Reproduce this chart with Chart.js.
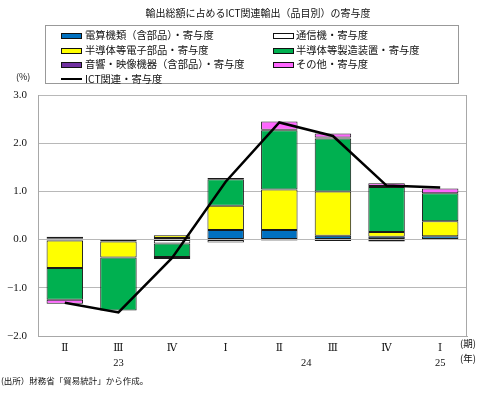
<!DOCTYPE html>
<html><head><meta charset="utf-8">
<script src="https://cdn.jsdelivr.net/npm/chart.js@4/dist/chart.umd.min.js"></script>
<style>
html,body{margin:0;padding:0;background:#fff;}
#wrap{position:relative;width:490px;height:393px;overflow:hidden;font-family:"Noto Sans CJK JP",sans-serif;color:#111;}
#c{position:absolute;left:0;top:0;}
.t{position:absolute;white-space:nowrap;line-height:1;}
.sw{position:absolute;width:19px;height:4px;border:1px solid #111;}
.ln{position:absolute;width:21px;height:2px;background:#000;}
#legend{position:absolute;left:45px;top:25px;width:412px;height:57px;border:1px solid #999;}
</style></head>
<body><div id="wrap">
<canvas id="c" width="490" height="393"></canvas>
<div class="t" id="title" style="left:0;width:516px;text-align:center;top:8px;font-size:10px;">輸出総額に占めるICT関連輸出（品目別）の寄与度</div>
<div id="legend"></div>
<div class="t" style="left:16px;top:72px;font-size:9px;">(%)</div>
<div class="t" style="left:460px;top:339px;font-size:9.5px;">(期)</div>
<div class="t" style="left:460px;top:354px;font-size:9.5px;">(年)</div>
<div class="t" style="left:1px;top:376px;font-size:8.5px;">(出所）財務省「貿易統計」から作成。</div>
</div>
<script>
const categories = ['Ⅱ','Ⅲ','Ⅳ','Ⅰ','Ⅱ','Ⅲ','Ⅳ','Ⅰ'];
const years = ['23','23','23','24','24','24','24','25'];
const yTicks = [3, 2, 1, 0, -1, -2];

const seriesNames = ['電算機類（含部品）・寄与度','通信機・寄与度','半導体等電子部品・寄与度','半導体等製造装置・寄与度','音響・映像機器（含部品）・寄与度','その他・寄与度'];
const lineName = 'ICT関連・寄与度';

const computers = [0.03, -0.03, 0.035, 0.20, 0.20, 0.08, 0.06, 0.07];
const telecom   = [-0.02, -0.01, -0.08, -0.06, -0.02, -0.03, -0.04, -0.01];
const semis     = [-0.57, -0.33, 0.055, 0.50, 0.84, 0.92, 0.10, 0.31];
const equipment = [-0.66, -1.10, -0.28, 0.55, 1.23, 1.10, 0.93, 0.58];
const audioVis  = [0.03, null, null, 0.03, 0.01, 0.02, 0.02, null];
const others    = [-0.08, null, -0.04, null, 0.17, 0.08, 0.06, 0.10];
const ictTotal  = [-1.31, -1.51, -0.38, 1.20, 2.43, 2.15, 1.12, 1.08];

const colors = ['#0070C0','#FFFFFF','#FFFF00','#00B050','#7030A0','#FF66FF'];
const seriesData = [computers, telecom, semis, equipment, audioVis, others];

// legend (HTML text)
const leg = document.getElementById('legend');
const rowsY = [5, 20, 34, 49];
const colX = [[15, 39], [227, 250]];
seriesNames.forEach((n, i) => {
  const r = Math.floor(i / 2), c = i % 2;
  const sw = document.createElement('div');
  sw.className = 'sw'; sw.style.left = colX[c][0] + 'px'; sw.style.top = (rowsY[r] + 2) + 'px';
  sw.style.background = colors[i]; leg.appendChild(sw);
  const t = document.createElement('div');
  t.className = 't'; t.style.left = colX[c][1] + 'px'; t.style.top = (rowsY[r] - 1) + 'px';
  t.style.fontSize = '10.3px'; t.textContent = n; leg.appendChild(t);
});
{
  const l = document.createElement('div'); l.className = 'ln';
  l.style.left = colX[0][0] + 'px'; l.style.top = (rowsY[3] + 3) + 'px'; leg.appendChild(l);
  const t = document.createElement('div'); t.className = 't';
  t.style.left = colX[0][1] + 'px'; t.style.top = (rowsY[3] - 1) + 'px'; t.style.fontSize = '10.3px';
  t.textContent = lineName; leg.appendChild(t);
}

const serif = '"DejaVu Serif","Liberation Serif","Noto Sans CJK JP",serif';

const framePlugin = {
  id: 'frame',
  beforeDatasetsDraw(chart) {
    const {ctx, chartArea: a} = chart;
    ctx.save();
    ctx.strokeStyle = '#a8a8a8'; ctx.lineWidth = 1;
    ctx.beginPath();
    ctx.moveTo(a.left + 0.5, a.top); ctx.lineTo(a.left + 0.5, a.bottom);
    ctx.moveTo(a.right - 0.5, a.top); ctx.lineTo(a.right - 0.5, a.bottom);
    ctx.stroke();
    ctx.restore();
  },
  afterDraw(chart) {
    const {ctx} = chart;
    const xs = chart.scales.x;
    const groups = {};
    years.forEach((y, i) => { (groups[y] = groups[y] || []).push(xs.getPixelForValue(i)); });
    ctx.save();
    ctx.fillStyle = '#111'; ctx.font = '10.5px "Liberation Serif",serif';
    ctx.textAlign = 'center'; ctx.textBaseline = 'middle';
    Object.keys(groups).forEach(y => {
      const p = groups[y]; const x = p.reduce((s, v) => s + v, 0) / p.length;
      ctx.fillText(y, x, 363);
    });
    ctx.restore();
  }
};

const datasets = seriesData.map((d, i) => ({
  type: 'bar', label: seriesNames[i], data: d, backgroundColor: colors[i],
  borderColor: '#1a1a1a', borderWidth: 1, borderSkipped: false, stack: 's', order: 1,
  categoryPercentage: 1, barPercentage: 0.68
}));
datasets.push({
  type: 'line', label: lineName, data: ictTotal, borderColor: '#000', borderWidth: 2.5,
  pointRadius: 0, tension: 0, fill: false, order: 0
});

new Chart(document.getElementById('c'), {
  data: { labels: categories, datasets },
  options: {
    responsive: false, animation: false, devicePixelRatio: 1,
    layout: { padding: { top: 95, right: 23, left: 0, bottom: 0 } },
    plugins: { legend: { display: false }, tooltip: { enabled: false } },
    scales: {
      x: {
        stacked: true,
        grid: { display: false, drawTicks: false },
        border: { display: true, color: '#a8a8a8' },
        ticks: { color: '#111', font: { family: serif, size: 10.5 }, padding: 6, maxRotation: 0, autoSkip: false },
        afterFit(s) { s.height = 57; }
      },
      y: {
        stacked: true, min: -2, max: 3,
        afterBuildTicks(s) { s.ticks = yTicks.map(v => ({ value: v })); },
        grid: { color: '#b8b8b8', drawTicks: false, lineWidth: 1 },
        border: { display: true, color: '#a8a8a8' },
        ticks: {
          color: '#111', font: { family: '"Liberation Serif",serif', size: 11 }, padding: 11,
          callback: v => v.toFixed(1).replace('-', '−')
        },
        afterFit(s) { s.width = 38; }
      }
    }
  },
  plugins: [framePlugin]
});
</script>
</body></html>
